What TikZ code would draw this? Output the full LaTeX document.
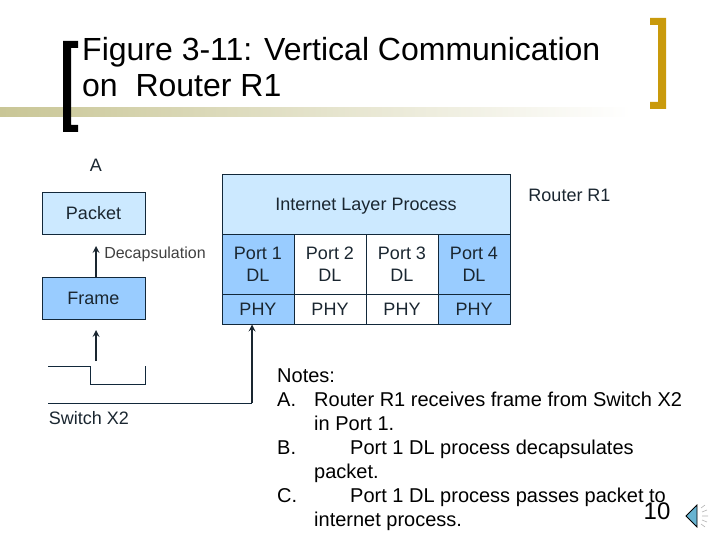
\documentclass[tikz,border=0pt]{standalone}
\usepackage{fontspec}
\setmainfont{Liberation Sans}
\usetikzlibrary{arrows,shapes}
\definecolor{pale}{HTML}{CCE9FF}
\definecolor{mid}{HTML}{99CCFF}
\definecolor{edge}{HTML}{12283A}
\definecolor{band}{HTML}{C9C696}
\definecolor{gold}{HTML}{C99A0C}
\definecolor{ink}{HTML}{1A2630}
\tikzset{
  lbl/.style={font=\fontsize{18}{22}\selectfont,text=ink,align=center,inner sep=0pt},
  port/.style={lbl,draw=edge,line width=0.8pt,minimum width=72pt,minimum height=60pt,text depth=-4pt},
  phy/.style={lbl,draw=edge,line width=0.8pt,minimum width=72pt,minimum height=30pt},
  stack/.style={lbl,draw=edge,line width=0.8pt,minimum width=103pt,minimum height=42pt},
  sig/.style={line width=0.8pt,draw=edge},
  flow/.style={->,>=stealth,line width=2pt,draw=ink},
  title/.style={font=\fontsize{32}{36}\selectfont,anchor=north west,align=left,inner sep=0pt}
}
\begin{document}
\begin{tikzpicture}[x=1pt,y=-1pt,shape=rectangle]
\useasboundingbox (0,0) rectangle (720,540);
% title
\shade[left color=band,right color=white] (0,108) rectangle (630,117);
\fill (78,41) -- (63,41) -- (63,132) -- (78,132) -- (78,125) -- (71,125) -- (71,48) -- (78,48) -- cycle;
\fill[gold] (650,18) -- (666,18) -- (666,109) -- (650,109) -- (650,102) -- (658,102) -- (658,25) -- (650,25) -- cycle;
\node (head) [title] at (82,37) {Figure 3-11: Vertical Communication\\on\ \ Router R1};

\node (a) [lbl] at (96,165) {A};
\node (rtr) [lbl] at (569.5,195) {Router R1};

% left stack
\node (pkt) [stack,fill=pale] at (93.5,213) {Packet};
\node (frm) [stack,fill=mid,node distance=85pt,below of=pkt] {Frame};
\node (dec) [lbl,text=black!75,font=\fontsize{16}{19}\selectfont] at (155,254) {Decapsulation};
\coordinate (f) at (96,277);
\coordinate (g) at (96,246);
\draw[flow] (f) -- (g);

% signal
\coordinate (s0) at (96,361);
\coordinate (s1) at (96,330);
\draw[flow] (s0) -- (s1);
\coordinate (p0) at (48,366.5);
\coordinate (p1) at (90.5,366.5);
\coordinate (p2) at (90.5,384);
\coordinate (p3) at (145,384);
\coordinate (p4) at (145,366);
\draw[sig] (p0) -- (p1) -- (p2) -- (p3) -- (p4);
\node (sw) [lbl] at (89,418) {Switch X2};

% router
\node (inet) [port,fill=pale,minimum width=288pt,text depth=0pt] at (366,204) {Internet Layer Process};
\node (dl1) [port,fill=mid] at (258,264) {Port 1\\DL};
\node (dl2) [port,node distance=72pt,right of=dl1] {Port 2\\DL};
\node (dl3) [port,node distance=72pt,right of=dl2] {Port 3\\DL};
\node (dl4) [port,fill=mid,node distance=72pt,right of=dl3] {Port 4\\DL};
\node (phy1) [phy,fill=mid] at (258,309) {PHY};
\node (phy2) [phy,node distance=72pt,right of=phy1] {PHY};
\node (phy3) [phy,node distance=72pt,right of=phy2] {PHY};
\node (phy4) [phy,fill=mid,node distance=72pt,right of=phy3] {PHY};

\coordinate (w0) at (48,403);
\coordinate (w1) at (252,403);
\coordinate (w2) at (252,324.5);
\draw[sig] (w0) -- (w1);
\draw[flow] (w1) -- (w2);

% notes
\node (notes) [anchor=north west,align=left,inner sep=0pt,font=\fontsize{20}{24}\selectfont] at (277,369) {Notes:\\
\makebox[37pt][l]{A.}Router R1 receives frame from Switch X2\\
\hspace*{37pt}in Port 1.\\
\makebox[73pt][l]{B.}Port 1 DL process decapsulates\\
\hspace*{37pt}packet.\\
\makebox[73pt][l]{C.}Port 1 DL process passes packet to\\
\hspace*{37pt}internet process.};
\node (num) [inner sep=0pt,font=\fontsize{24}{28}\selectfont] at (657,511) {10};

% speaker
\fill[cyan!50!teal!70,draw=black,line width=0.8pt] (686,516) -- (697,505) -- (697,527) -- cycle;
\draw[gray!60,line width=0.6pt] (701,508) -- (705,505) (702,516) -- (708,516) (701,524) -- (705,527) (702,512) -- (707,510) (702,520) -- (707,522);
\end{tikzpicture}
\end{document}
